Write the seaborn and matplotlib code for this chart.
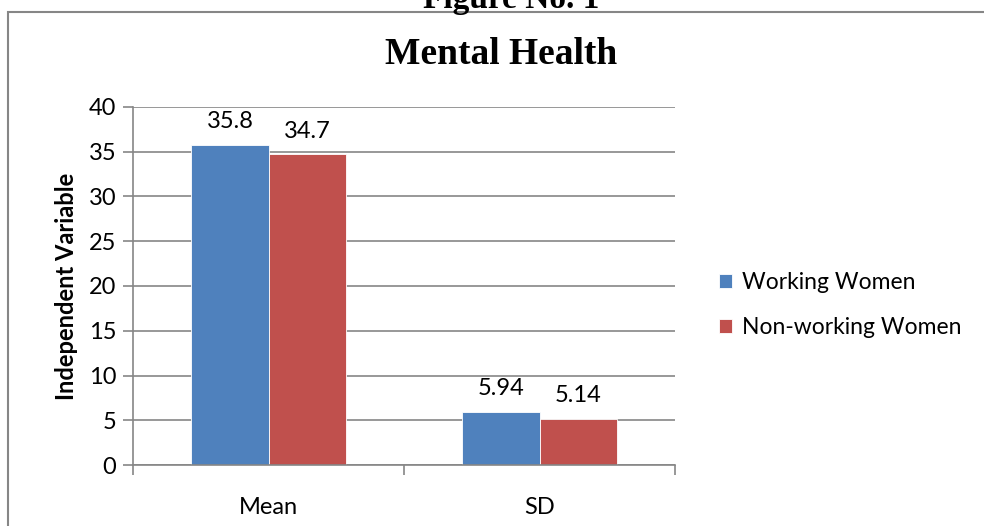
import pandas as pd
import matplotlib.pyplot as plt
import seaborn as sns
from matplotlib.patches import Rectangle

# data
stats = ['Mean', 'SD']
working = [35.8, 5.94]
non_working = [34.7, 5.14]
groups = ['Working Women', 'Non-working Women']
labels_txt = [['35.8', '5.94'], ['34.7', '5.14']]

df = pd.DataFrame({
    'Stat': stats * 2,
    'Value': working + non_working,
    'Group': [groups[0]] * 2 + [groups[1]] * 2,
})

sns.set_theme(style="white")
plt.rcParams['font.family'] = ['Lato', 'DejaVu Sans']
plt.rcParams['text.color'] = 'black'
plt.rcParams['axes.labelcolor'] = 'black'
plt.rcParams['xtick.labelcolor'] = 'black'
plt.rcParams['ytick.labelcolor'] = 'black'

fig = plt.figure(figsize=(9.84, 5.26), dpi=100)
ax = fig.add_axes([133 / 984, 1 - 465 / 526, (675 - 133) / 984, (465 - 107) / 526])

sns.barplot(data=df, x='Stat', y='Value', hue='Group', order=stats, hue_order=groups,
            palette=['#4F81BD', '#C0504D'], width=0.57, saturation=1,
            edgecolor='white', linewidth=0.6, ax=ax)

for cont, txt in zip(ax.containers, labels_txt):
    ax.bar_label(cont, labels=txt, padding=9, fontsize=17, color='black')

ax.set_ylim(0, 40)
ax.set_xlim(-0.5, 1.5)
ax.set_yticks(range(0, 41, 5))
ax.grid(axis='y', color='#868686', linewidth=1.2)
ax.set_axisbelow(True)
for side in ['top', 'right']:
    ax.spines[side].set_visible(False)
for side in ['left', 'bottom']:
    ax.spines[side].set_color('#868686')
    ax.spines[side].set_linewidth(1.2)

ax.tick_params(axis='y', length=7, color='#868686', width=1.2, labelsize=17, pad=5, left=True)
ax.set_xticks([-0.5, 0.5, 1.5], minor=True)
ax.tick_params(axis='x', which='minor', length=7, color='#868686', width=1.2, bottom=True)
ax.tick_params(axis='x', which='major', length=0, labelsize=17, pad=23)

ax.set_xlabel('')
ax.set_ylabel('Independent Variable', fontsize=17, fontweight='bold', labelpad=8)

ax.legend(loc='center left', bbox_to_anchor=(698 / 984, 1 - 305 / 526),
          bbox_transform=fig.transFigure, frameon=False, fontsize=16.5,
          handlelength=0.6, handleheight=0.6, handletextpad=0.4, labelspacing=1.05)

fig.text(0.509, 1 - 55 / 526, 'Mental Health', ha='center', va='center',
         fontsize=27, fontweight='bold', family=['Liberation Serif', 'DejaVu Serif'])
fig.text(0.52, 1 - 8 / 526, 'Figure No. 1', ha='center', va='baseline',
         fontsize=24, fontweight='bold', family=['Liberation Serif', 'DejaVu Serif'])

# outer chart border, only left and top edges fall inside the picture
fig.patches.append(Rectangle((8 / 984, -0.2), 1.2, 1.2 - 12 / 526, transform=fig.transFigure,
                             fill=False, edgecolor='#868686', linewidth=1.5, figure=fig))

fig.savefig('out.png', dpi=100)
